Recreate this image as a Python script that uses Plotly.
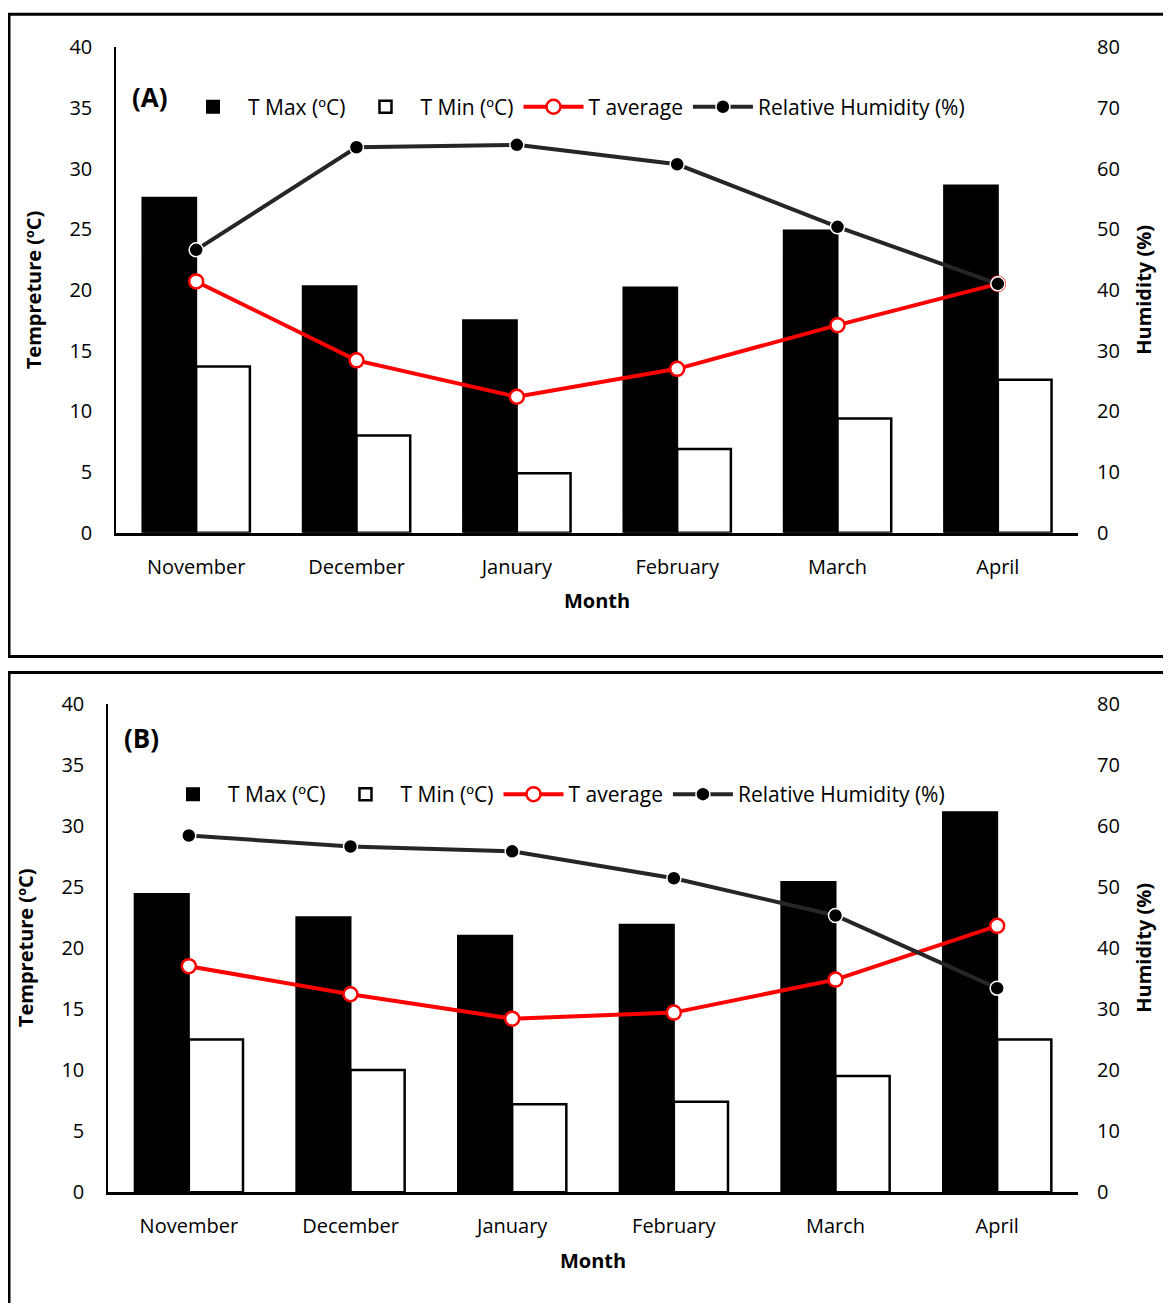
import plotly.graph_objects as go

months = ["November", "December", "January", "February", "March", "April"]

# Panel A
a_tmax = [27.6, 20.3, 17.5, 20.2, 24.9, 28.6]
a_tmin = [13.7, 8.0, 4.9, 6.9, 9.4, 12.6]
a_tavg = [20.7, 14.2, 11.2, 13.5, 17.1, 20.5]
a_hum = [46.6, 63.5, 63.9, 60.7, 50.4, 41.0]

# Panel B
b_tmax = [24.4, 22.5, 21.0, 21.9, 25.4, 31.1]
b_tmin = [12.5, 10.0, 7.2, 7.4, 9.5, 12.5]
b_tavg = [18.5, 16.2, 14.2, 14.7, 17.4, 21.8]
b_hum = [58.4, 56.6, 55.8, 51.4, 45.3, 33.4]

W, H = 1155, 1295
OFF = 8
FONT = "Open Sans"

def px(x):
    return (x - OFF) / W

def py(y):
    # correction for how the page ends up on screen
    y = (y - 14) / 0.98
    return 1 - (y - OFF) / H

fig = go.Figure()

panels = [
    ("", "y", "y2", a_tmax, a_tmin, a_tavg, a_hum),
    ("2", "y3", "y4", b_tmax, b_tmin, b_tavg, b_hum),
]
for xs, yl, yr, tmax, tmin, tavg, hum in panels:
    xa = "x" + xs
    lg = "legend" if xs == "" else "legend2"
    fig.add_trace(go.Bar(x=months, y=tmax, name="T Max (ºC)", marker=dict(color="black", line=dict(color="black", width=2)),
                         xaxis=xa, yaxis=yl, legend=lg))
    fig.add_trace(go.Bar(x=months, y=tmin, name="T Min (ºC)", marker=dict(color="white", line=dict(color="black", width=2.5)),
                         xaxis=xa, yaxis=yl, legend=lg))
    fig.add_trace(go.Scatter(x=months, y=tavg, name="T average", mode="lines+markers",
                             line=dict(color="#ff0000", width=4),
                             marker=dict(color="white", size=14, line=dict(color="#ff0000", width=2.5)),
                             xaxis=xa, yaxis=yl, legend=lg))
    fig.add_trace(go.Scatter(x=months, y=hum, name="Relative Humidity (%)", mode="lines+markers",
                             line=dict(color="#262626", width=4),
                             marker=dict(color="black", size=14, line=dict(color="white", width=1.5)),
                             xaxis=xa, yaxis=yr, legend=lg))

tick = dict(family=FONT, size=20, color="black")
title_f = dict(family=FONT, size=20, color="black")

def xaxis(domain, anchor):
    return dict(domain=domain, anchor=anchor, showline=True, linecolor="black", linewidth=3,
                tickfont=tick, ticks="", ticklabelstandoff=14,
                title=dict(text="<b>Month</b>", font=title_f, standoff=16))

def yleft(domain, anchor):
    return dict(domain=domain, anchor=anchor, range=[0, 40], dtick=5, showgrid=False, zeroline=False,
                showline=True, linecolor="black", linewidth=1.5, tickfont=tick, ticks="", ticklabelstandoff=18,
                title=dict(text="<b>Tempreture (ºC)</b>", font=title_f, standoff=22))

def yright(overlay, anchor):
    return dict(overlaying=overlay, anchor=anchor, side="right", range=[0, 80], dtick=10, showgrid=False,
                zeroline=False, showline=False, tickfont=tick, ticks="", ticklabelstandoff=18,
                title=dict(text="<b>Humidity (%)</b>", font=title_f, standoff=18))

leg = dict(orientation="h", font=dict(family=FONT, size=21, color="black"), bgcolor="rgba(0,0,0,0)",
           xanchor="left", yanchor="middle", itemwidth=60, traceorder="normal")

fig.update_layout(
    width=W, height=H, margin=dict(l=0, r=0, t=0, b=0),
    paper_bgcolor="white", plot_bgcolor="white",
    barmode="group", bargap=0.33, bargroupgap=0,
    xaxis=xaxis([px(116), px(1078)], "y"),
    yaxis=yleft([py(533), py(47)], "x"),
    yaxis2=yright("y", "x"),
    xaxis2=xaxis([px(108), px(1078)], "y3"),
    yaxis3=yleft([py(1193), py(704)], "x2"),
    yaxis4=yright("y3", "x2"),
    legend=dict(leg, x=px(178), y=py(107)),
    legend2=dict(leg, x=px(158), y=py(795)),
    annotations=[
        dict(text="<b>(A)</b>", x=px(130), y=py(77), xref="paper", yref="paper", showarrow=False,
             xanchor="left", font=dict(family=FONT, size=26, color="black")),
        dict(text="<b>(B)</b>", x=px(122), y=py(738), xref="paper", yref="paper", showarrow=False,
             xanchor="left", font=dict(family=FONT, size=26, color="black")),
    ],
    shapes=[
        dict(type="rect", xref="paper", yref="paper", x0=px(9), x1=1.02, y0=py(657), y1=py(14),
             line=dict(color="black", width=3)),
        dict(type="rect", xref="paper", yref="paper", x0=px(9), x1=1.02, y0=-0.02, y1=py(673),
             line=dict(color="black", width=3)),
    ],
)

fig.write_html("out.html")
